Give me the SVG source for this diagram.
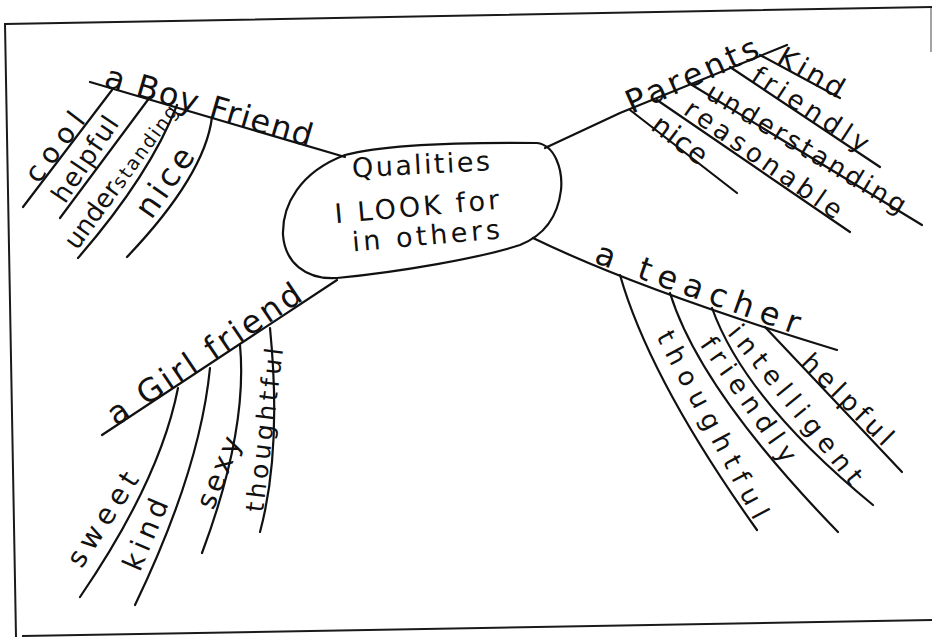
<svg xmlns="http://www.w3.org/2000/svg" width="932" height="637" viewBox="0 0 932 637">
<style>
.ln{fill:none;stroke:#111;stroke-width:2.2;stroke-linecap:round;stroke-linejoin:round}
.fr{fill:none;stroke:#1a1a1a;stroke-width:2}
text{font-family:"DejaVu Sans","Liberation Sans",sans-serif;fill:#111;text-anchor:middle}
.b{font-size:32px}
.m{font-size:28px}
.s{font-size:26px}
.c{font-size:27px}
</style>
<rect width="932" height="637" fill="#fff"/>
<g id="frame">
<path class="fr" d="M16,637 L5,24 L932,7"/>
<path class="fr" d="M22,636 L932,620"/>
<path class="fr" d="M931,8 L931,52" stroke-opacity="0.4"/>
</g>
<g id="connectors">
<path class="ln" d="M90,82 L345,157"/>
<path class="ln" d="M112,90 L23,207"/>
<path class="ln" d="M150,97 L60,218"/>
<path class="ln" d="M177,105 Q150,175 78,258"/>
<path class="ln" d="M212,117 Q205,175 127,257"/>
<path class="ln" d="M545,148 L620,113 L787,45"/>
<path class="ln" d="M760,55 L840,98"/>
<path class="ln" d="M730,67 L880,167"/>
<path class="ln" d="M692,85 L922,225"/>
<path class="ln" d="M657,100 L850,232"/>
<path class="ln" d="M630,110 L737,193"/>
<path class="ln" d="M337,280 L102,435"/>
<path class="ln" d="M178,388 Q160,480 80,597"/>
<path class="ln" d="M210,368 Q200,470 135,605"/>
<path class="ln" d="M240,345 Q248,430 202,553"/>
<path class="ln" d="M270,328 Q282,450 260,532"/>
<path class="ln" d="M533,238 Q640,290 837,350"/>
<path class="ln" d="M765,327 L902,472"/>
<path class="ln" d="M712,308 Q745,400 873,505"/>
<path class="ln" d="M670,293 Q700,390 838,532"/>
<path class="ln" d="M620,275 Q650,380 757,530"/>
</g>
<g id="center">
<path class="ln" d="M345,155 C380,146 440,142 537,143 C555,145 563,170 561,190 C558,215 545,235 520,245 C480,258 400,272 337,278 C305,280 285,262 283,235 C282,205 300,172 345,155 Z"/>
<text class="c" transform="translate(421,166) rotate(-3)" y="8" textLength="138">Qualities</text>
<text class="c" transform="translate(417,208) rotate(-5)" y="8" textLength="165">I LOOK for</text>
<text class="c" transform="translate(426,237) rotate(-5)" y="8" textLength="148">in others</text>
</g>
<g id="boyfriend">
<text class="b" transform="translate(209,106) rotate(16.4)" y="11" textLength="215">a Boy Friend</text>
</g>
<g id="boy-cool"><text class="m" transform="translate(56,148) rotate(-53)" y="8" textLength="80">cool</text></g>
<g id="boy-helpful"><text class="s" transform="translate(85,159) rotate(-56)" y="9" textLength="98">helpful</text></g>
<g id="boy-understanding"><text transform="translate(77,251) rotate(-54)" style="text-anchor:start"><tspan font-size="26">under</tspan><tspan font-size="19" letter-spacing="2">standing</tspan></text></g>
<g id="boy-nice"><text class="b" transform="translate(167,184) rotate(-55)" y="8" textLength="78">nice</text></g>
<g id="parents">
<text class="b" transform="translate(692,75) rotate(-24)" y="11" textLength="142">Parents</text>
</g>
<g id="parents-kind"><text class="m" transform="translate(811,73) rotate(30)" y="9" textLength="72">Kind</text></g>
<g id="parents-friendly"><text class="s" transform="translate(810,110) rotate(33)" y="8" textLength="134">friendly</text></g>
<g id="parents-understanding"><text class="s" transform="translate(806,149) rotate(31)" y="8" textLength="228">understanding</text></g>
<g id="parents-reasonable"><text class="s" transform="translate(763,160) rotate(35)" y="8" textLength="186">reasonable</text></g>
<g id="parents-nice"><text class="m" transform="translate(679,141) rotate(37)" y="8" textLength="62">nice</text></g>
<g id="girlfriend">
<text class="b" transform="translate(204,354) rotate(-34)" y="11" textLength="227">a Girl friend</text>
</g>
<g id="girl-sweet"><text class="m" transform="translate(104,520) rotate(-57)" y="8" textLength="107">sweet</text></g>
<g id="girl-kind"><text class="m" transform="translate(147,535) rotate(-67)" y="8" textLength="75">kind</text></g>
<g id="girl-sexy"><text class="m" transform="translate(220,473) rotate(-68)" y="8" textLength="75">sexy</text></g>
<g id="girl-thoughtful"><text style="font-size:25px" transform="translate(265,430) rotate(-83)" y="8" textLength="165">thoughtful</text></g>
<g id="teacher">
<text class="b" transform="translate(698,288) rotate(19.6)" y="11" textLength="215">a teacher</text>
</g>
<g id="teacher-helpful"><text class="s" transform="translate(847,400) rotate(45)" y="8" textLength="118">helpful</text></g>
<g id="teacher-intelligent"><text class="s" transform="translate(795,405) rotate(51)" y="8" textLength="197">intelligent</text></g>
<g id="teacher-friendly"><text class="s" transform="translate(748,400) rotate(55)" y="8" textLength="147">friendly</text></g>
<g id="teacher-thoughtful"><text class="s" transform="translate(712,425) rotate(62)" y="8" textLength="209">thoughtful</text></g>
</svg>
